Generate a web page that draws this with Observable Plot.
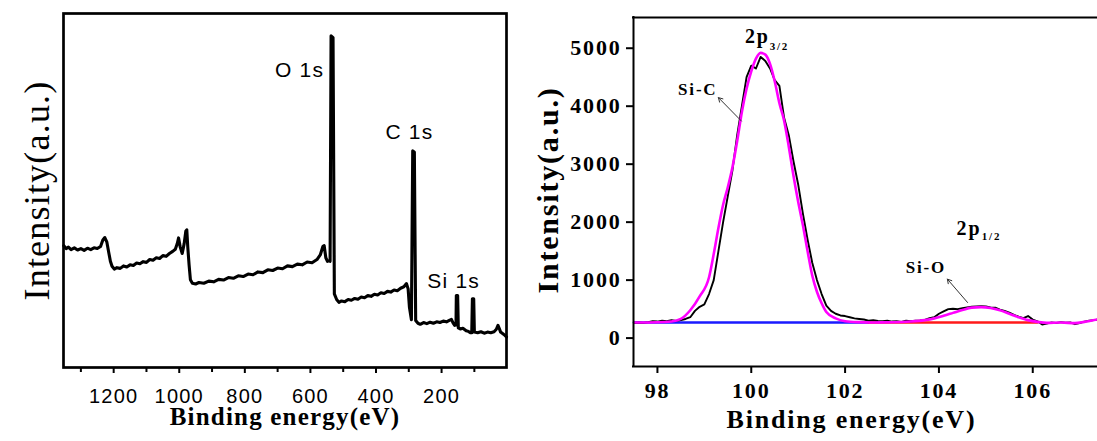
<!DOCTYPE html>
<html>
<head>
<meta charset="utf-8">
<script src="https://cdn.jsdelivr.net/npm/d3@7"></script>
<script src="https://cdn.jsdelivr.net/npm/@observablehq/plot@0.6"></script>
<style>
html,body{margin:0;padding:0;background:#fff;}
#wrap{position:relative;width:1097px;height:441px;overflow:hidden;background:#fff;}
#left{position:absolute;left:0;top:0;}
#right{position:absolute;left:520px;top:0;}
#left svg{letter-spacing:1.2px;}
#left g[aria-label="xtitle"] text{letter-spacing:2px;}
#left g[aria-label="ytitle"] text{letter-spacing:0;}
#right svg{letter-spacing:1.8px;}
#right g[aria-label="xtitle"] text{letter-spacing:2px;}
#right g[aria-label="ytitle"] text{letter-spacing:0.3px;}
#right g[aria-label="notes"] text{letter-spacing:0.2px;}
</style>
</head>
<body>
<div id="wrap"><div id="left"></div><div id="right"></div></div>
<script>
// ---------- Left panel: XPS survey spectrum ----------
const surveyEV = [1352,1345,1338,1330,1320,1310,1300,1290,1280,1270,1260,1250,1240,1233,1227,1221,1216,1210,1205,1198,
  1190,1180,1170,1160,1150,1140,1130,1120,1110,1100,1090,1080,1070,1060,1050,1040,1030,1020,1012,1006,
  1002,997,991,985,980,977,974,970,966,960,950,940,925,910,895,880,865,850,835,820,
  805,790,775,760,745,730,715,700,685,670,655,640,625,610,595,580,570,562,558,553,
  548,542,540,537,531,527,520,513,505,495,485,475,465,455,445,435,425,415,405,395,
  385,375,365,355,345,335,325,315,307,302,298,292,288,283,279,272,265,255,245,235,
  225,215,205,195,185,175,170,165,160,156,155,151,149,143,135,125,118,112,108,106,
  102,100,90,80,70,60,50,40,33,28,24,20,14,8,2];
const surveyInt = [344,336,340,333,338,332,336,331,337,333,338,336,342,360,367,355,330,300,286,278,
  282,280,287,284,290,288,295,293,299,297,305,303,310,308,316,314,322,328,334,350,
  366,340,322,350,385,389,340,290,248,238,236,240,238,244,242,249,247,254,252,259,
  257,264,262,270,268,276,274,281,279,287,285,292,290,298,296,305,318,342,344,310,
  300,302,300,937,932,208,192,184,188,186,192,190,195,193,199,197,203,201,207,205,
  211,209,215,213,219,217,224,228,237,222,170,135,612,608,133,125,122,127,124,128,
  125,129,127,131,129,134,136,126,119,120,203,203,112,109,111,104,102,98,98,194,
  194,100,98,101,97,100,98,101,108,119,110,100,96,92,86];
const surveyMajorTicks = [1200,1000,800,600,400,200];
const surveyMinorTicks = [1300,1100,900,700,500,300,100];
const surveyLabelText = ["O 1s","C 1s","Si 1s"];
const surveyLabelEV = [633,298,163];
const surveyLabelInt = [841,664,243];

// ---------- Right panel: Si 2p high-resolution ----------
const rawEV = [97.5,97.6,97.7,97.8,97.9,98.0,98.1,98.2,98.3,98.4,98.5,98.6,98.7,98.8,98.9,99.0,99.1,99.2,99.3,99.4,
  99.5,99.6,99.7,99.8,99.9,100.0,100.1,100.2,100.3,100.4,100.5,100.6,100.7,100.8,100.9,101.0,101.1,101.2,101.3,101.4,
  101.5,101.6,101.7,101.8,101.9,102.0,102.1,102.2,102.3,102.4,102.5,102.6,102.7,102.8,102.9,103.0,103.1,103.2,103.3,103.4,
  103.5,103.6,103.7,103.8,103.9,104.0,104.1,104.2,104.3,104.4,104.5,104.6,104.7,104.8,104.9,105.0,105.1,105.2,105.3,105.4,
  105.5,105.6,105.7,105.8,105.9,106.0,106.1,106.2,106.3,106.4,106.5,106.6,106.7,106.8,106.9,107.0,107.1,107.2,107.3,107.4];
const rawInt = [260,268,262,275,290,285,300,292,310,296,312,330,360,470,540,580,760,1000,1500,2000,
  2450,2900,3500,4000,4500,4700,4650,4850,4780,4650,4450,4350,3800,3500,3050,2650,2150,1700,1300,1000,
  760,560,470,420,390,380,360,340,330,320,300,310,295,290,300,285,290,280,300,290,
  300,305,315,345,360,420,460,500,505,500,515,530,540,545,550,545,530,525,490,470,
  440,400,370,345,380,320,290,235,250,270,260,275,265,270,240,260,285,300,310,320];
const fitEV = [97.5,98.0,98.3,98.5,98.7,98.9,99.1,99.2,99.3,99.4,99.5,99.6,99.7,99.8,99.9,100.0,100.1,100.2,100.3,100.4,
  100.5,100.6,100.7,100.8,100.9,101.0,101.1,101.2,101.3,101.4,101.5,101.6,101.8,102.0,102.3,102.6,103.0,103.4,103.7,103.9,
  104.1,104.3,104.5,104.7,104.9,105.1,105.3,105.5,105.7,105.9,106.1,106.3,106.6,106.9,107.1,107.4];
const fitInt = [268,272,285,330,480,720,1050,1450,1900,2300,2600,2950,3400,3900,4300,4600,4820,4920,4890,4730,
  4430,4050,3750,3300,2800,2350,1950,1500,1080,800,600,450,340,292,275,270,272,285,310,340,
  385,435,485,525,535,520,480,420,360,310,280,262,268,258,280,325];
const siCBaseEV = [97.5,102.5];
const siCBaseInt = [270,270];
const siOBaseEV = [102.5,106.1];
const siOBaseInt = [270,270];
const hiresXTicks = [98,100,102,104,106];
const hiresYTicks = [0,1000,2000,3000,4000,5000];
const bigNoteText = ["2p","Si-C","2p","Si-O"];
const bigNoteEV = [100.13,98.86,104.64,103.72];
const bigNoteInt = [5203,4290,1893,1217];
const bigNoteSize = [20,17,20,17];
const subNoteText = ["3/2","1/2"];
const subNoteEV = [100.6,105.12];
const subNoteInt = [5022,1747];
const arrowFromEV = [99.79,104.61];
const arrowFromInt = [3744,614];
const arrowToEV = [99.30,104.18];
const arrowToInt = [4148,1017];

const serif = "'Liberation Serif','Times New Roman',Times,serif";
const sans = "'Liberation Sans',Arial,Helvetica,sans-serif";

const survey = surveyEV.map((e, i) => ({e, v: surveyInt[i]}));
const surveyLabels = surveyLabelText.map((t, i) => ({t, e: surveyLabelEV[i], v: surveyLabelInt[i]}));

const leftPlot = Plot.plot({
  width: 520, height: 441,
  marginLeft: 63, marginRight: 14, marginTop: 13, marginBottom: 74,
  style: {fontFamily: sans, fontSize: "20px", color: "#000", background: "transparent"},
  x: {domain: [1353, 2], label: null},
  y: {domain: [0, 1000], label: null, axis: null},
  marks: [
    Plot.axisX({ticks: surveyMinorTicks, tickFormat: () => "", tickSize: 5, strokeWidth: 2, label: null}),
    Plot.axisX({ticks: surveyMajorTicks, tickFormat: d => String(d), tickSize: 6, tickPadding: 15, strokeWidth: 2, label: null}),
    Plot.line(survey, {x: "e", y: "v", stroke: "#000", strokeWidth: 3.1, strokeLinejoin: "round"}),
    Plot.text(surveyLabels, {x: "e", y: "v", text: "t", fontSize: 21, fill: "#000"}),
    Plot.text(["Binding energy(eV)"], {frameAnchor: "bottom", textAnchor: "middle", dy: 57, fontFamily: serif, fontWeight: "bold", fontSize: 25, fill: "#000", ariaLabel: "xtitle"}),
    Plot.text(["Intensity(a.u.)"], {frameAnchor: "left", textAnchor: "middle", dx: -26, rotate: -90, fontFamily: serif, fontSize: 36, fill: "#000", ariaLabel: "ytitle"}),
    Plot.frame({stroke: "#000", strokeWidth: 2.7})
  ]
});
document.getElementById("left").append(leftPlot);

const raw = rawEV.map((e, i) => ({e, v: rawInt[i]}));
const fit = fitEV.map((e, i) => ({e, v: fitInt[i]}));
const baseC = siCBaseEV.map((e, i) => ({e, v: siCBaseInt[i]}));
const baseO = siOBaseEV.map((e, i) => ({e, v: siOBaseInt[i]}));
const bigNotes = bigNoteText.map((t, i) => ({t, e: bigNoteEV[i], v: bigNoteInt[i], s: bigNoteSize[i]}));
const subNotes = subNoteText.map((t, i) => ({t, e: subNoteEV[i], v: subNoteInt[i]}));
const arrows = arrowFromEV.map((e, i) => ({x1: e, y1: arrowFromInt[i], x2: arrowToEV[i], y2: arrowToInt[i]}));

const xDom = [97.49, 107.38];
const yDom = [-490, 5530];

const rightPlot = Plot.plot({
  width: 577, height: 441,
  marginLeft: 113, marginRight: 0, marginTop: 17, marginBottom: 75,
  style: {fontFamily: serif, fontSize: "22px", fontWeight: "bold", color: "#000", background: "transparent"},
  x: {domain: xDom, label: null},
  y: {domain: yDom, label: null},
  marks: [
    Plot.axisX({ticks: hiresXTicks, tickFormat: d => String(d), tickSize: 7, tickPadding: 9, strokeWidth: 2, label: null}),
    Plot.axisY({ticks: hiresYTicks, tickFormat: d => String(d), tickSize: 7, tickPadding: 5, strokeWidth: 2, label: null}),
    Plot.line(baseC, {x: "e", y: "v", stroke: "#1a1aff", strokeWidth: 2.6}),
    Plot.line(baseO, {x: "e", y: "v", stroke: "#ff1a1a", strokeWidth: 2.6}),
    Plot.line(raw, {x: "e", y: "v", stroke: "#000", strokeWidth: 1.9, clip: true}),
    Plot.line(fit, {x: "e", y: "v", stroke: "#ff00ff", strokeWidth: 2.6, curve: "monotone-x", clip: true}),
    Plot.arrow(arrows, {x1: "x1", y1: "y1", x2: "x2", y2: "y2", stroke: "#333", strokeWidth: 1, headLength: 7}),
    Plot.text(bigNotes, {x: "e", y: "v", text: "t", fontSize: "s", fill: "#000", ariaLabel: "notes"}),
    Plot.text(subNotes, {x: "e", y: "v", text: "t", fontSize: 11, fill: "#000", ariaLabel: "notes"}),
    Plot.text(["Binding energy(eV)"], {frameAnchor: "bottom", textAnchor: "middle", dx: -14, dy: 61, fontFamily: serif, fontWeight: "bold", fontSize: 26, fill: "#000", ariaLabel: "xtitle"}),
    Plot.text(["Intensity(a.u.)"], {frameAnchor: "left", textAnchor: "middle", dx: -85, dy: -2, rotate: -90, fontFamily: serif, fontWeight: "bold", fontSize: 30, fill: "#000", ariaLabel: "ytitle"}),
    Plot.ruleX([xDom[0]], {stroke: "#000", strokeWidth: 2, strokeLinecap: "square"}),
    Plot.ruleY([yDom[0], yDom[1]], {stroke: "#000", strokeWidth: 2, strokeLinecap: "square"})
  ]
});
document.getElementById("right").append(rightPlot);
</script>
</body>
</html>
